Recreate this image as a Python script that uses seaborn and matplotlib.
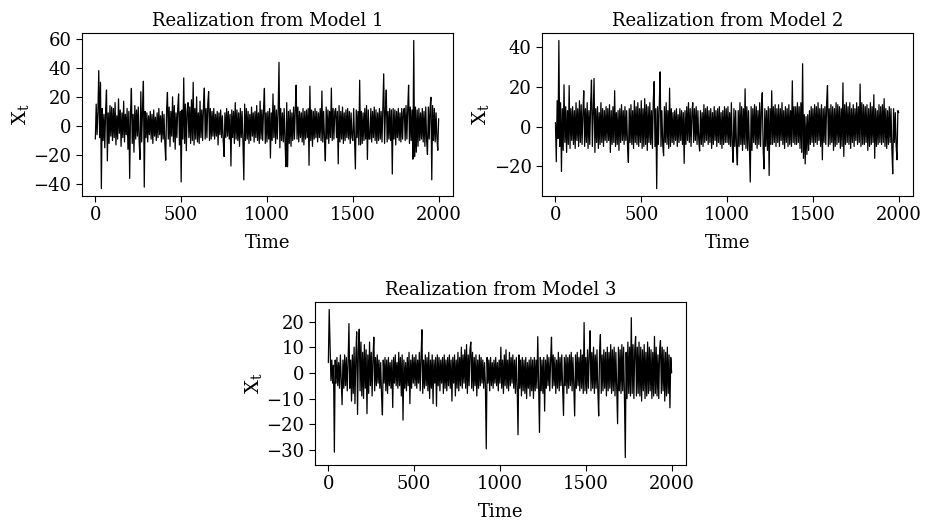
import pandas as pd
import seaborn as sns
import matplotlib.pyplot as plt

# values, one every 5 time steps
time = list(range(0, 2001, 5))

model_1 = [
    -9, 15, -6, 10, 38, -8, 30, -43, 12, -10, 8, -15, 11, 24.7, -24, 9, -12, 14, -7, 13,
    -10, 12, -8, 16, -13, 7, -9, 18.6, -5, 11, -14, 9, -8, 17, -11, 8, -6, 12, -16, 10,
    -36, 9, 25.8, -12, 8, -18, 14, -9, 11, -7, 13, -10, -23, 23.5, -11, 12, 30.7, -42, 10, -8,
    9, -11, 7, -6, 10, -9, 8, -12, 11, -7, 6, -10, 9, -8, 12, -6, 7, -11, 10, -9,
    8, -12, -23.5, 11, 23, -9, 13, -14, 10, -7, 20, -11, 14, -16, 9, -8, 12, 22, -13, 10,
    -38.4, 11, -9, 33, -12, 15, -17, 10, 16, -8, 13, -12, 18, -10, 30, -13, 12, -9, 20, -11,
    9, -12, 17, -8, 11, -10, 14, 26, -9, 12, -8, 15, 23.5, -10, 12, -9, 10, -7, 12, -9,
    8, -7, 10, -13, 9, -6, 11, -8, 7, -10, -21, 9, -8, 12, -7, 10, -9, 8, -27.5, 11,
    -8, 10, -12, 16, -9, 11, -10, 9, -14, 12, -8, 10, -11, -37, 15, -10, 12, -9, 10, -12,
    8, -10, 13, -7, 9, -11, 10, -8, 14, -10, 9, -12, 17, -9, 11, -10, 12, 25.8, -12, 9,
    -11, 10, -9, 12, -22, 9, -10, 22, -8, 14, -12, 11, -9, 10, 43.7, -15, 12, -10, 9, -11,
    12, -10, -28, 16, -28, 10, -12, 11, -14, 9, -10, 13, -9, 12, 28, -9, 13, -11, 10, -8,
    9, -11, 12, -13, 10, -9, 11, -8, 12, -27, 27.3, -10, 11, -14, 10, -9, 12, -8, 10, -11,
    9, -8, 12, -10, 24, -11, 10, -9, -24, 13, -9, 11, -12, 10, -8, 26, -10, 12, -9, 10,
    12, -8, 10, -26, 14, -11, 10, -9, 13, -12, 9, -10, 11, -8, 12, -9, 10, -12, 9, -8,
    -10, 12, -9, -29.5, 11, -8, 10, -13, 31.4, -13, 10, -12, 9, -10, 12, -9, 14, -23, 11, -9,
    -9, 12, -11, 10, -8, 13, -10, 11, -12, 9, -10, 12, -9, 10, -11, 14, 35.8, -12, 10, 24.7,
    -11, 10, -9, 12, -10, 11, -33, 12, -9, 11, -13, 10, -8, 12, -10, 9, -11, 12, -9, 10,
    12, -10, 14, -9, 12, 28, -12, 13, -10, 11, -22.8, 58.7, -21, 13, -18, 11, -14, 12, -10, 9,
    -9, 12, -11, 10, -14, 13, -10, -19.6, 13, -9, 12, 19.7, -37, 14, -10, 12, -11, 9, -8, -16.7,
    5,
]

model_2 = [
    2, -17.7, 13, -6, 43.3, -10, 12, -22.6, 9, -12, 21, -8, 10, -13, 8, -9, 20.6, -11, 9, -7,
    10, -9, 8, -11, 12, -7, 9, -10, 13, -8, 11, -9, 7, 18, -10, 9, -8, 12, -11, 8,
    -9, 11, 23.4, -10, 8, 24.2, -13, 9, -8, 10, -11, 7, -9, 12, -8, 9, -10, 8, -7, 10,
    -8, 9, -7, 11, -13, 8, -9, 10, -8, 18, -10, 7, -9, 8, -12, 9, -8, 11, -7, 8,
    -9, 10, -7, 8, -10, -18, 9, -8, 11, -9, 8, -11, 13, -8, 10, -9, 12, -10, 9, -8,
    13, -11, 9, -10, 14, -9, 11, -12, 10, -8, 12, -9, 8, -11, 13, 22.6, -10, 9, -31.2, 10,
    -9, 11, 27.5, -10, 8, -9, -14.7, 10, -8, 12, -9, 8, -11, 19.3, -10, 9, -8, 7, -9, 8,
    -7, 9, -10, 6, -8, 9, -7, 8, -9, 7, -18.5, 8, -9, 10, -7, 12, -8, 9, -10, 7,
    12, -8, 9, -7, 10, -9, 8, -7, -12.3, 8, -9, 7, -10, 11, -8, 9, -7, 10, -9, 8,
    -8, 9, -11, 7, -9, 10, -7, 8, -10, 9, -8, 10, -9, 7, -11, 8, -9, 10, -8, 9,
    -8, 10, -9, 7, -10, 12, -9, -18, 9, -10, 8, -11, -19.3, 8, -10, 12, -9, 10, -12, 9,
    -9, 19, -11, 10, -12, 8, -10, -27.9, 10, -12, 9, -8, 11, -9, 10, -11, 8, -9, 12, -10,
    9, 17, -11, -21.3, 9, -10, 8, -12, 10, -24.6, 9, -9, 18, -9, 10, -8, 11, -10, 9, -8,
    11, -10, 9, -7, 12, -9, 8, -11, 10, -8, 9, -10, 11, -9, 8, -10, 23, -8, 10, -9,
    10, -9, 12, -8, 10, -11, 12, -13, 31.6, -16, 6, -18.8, 5, -14, 6, -12, 8, -9, 10, -8,
    9, -10, 11, -8, 10, -9, 12, -7, 9, -10, 11, -16.7, 9, -8, 10, -9, 12, 20.6, -10, 9,
    -9, 11, -8, 10, -12, 9, -10, 12, -9, 11, -8, 10, -11, 9, -10, 22, -15, 11, -9, 12,
    -8, 10, -9, 12, -11, 9, -8, 11, -10, 9, -7, 12, -9, 10, -8, 21.4, -10, 12, -9, 11,
    -9, 10, -8, 11, -12, 9, -10, 12, -9, 10, -8, 16, -16, 9, -10, 8, -9, 11, -8, 10,
    -9, 11, -8, 14, -10, 9, -11, 8, -9, 10, -8, 9, -11, -23.8, 9, -8, 7, -10, -16.7, 8,
    7,
]

model_3 = [
    4, 24.7, 11.3, -3, 5, -4, 3, -30.9, 5, -4, 6, -5, 4, -6, 7, -3, -12.4, 5, -6, 7,
    -5, 6, -7, 4, 19.2, -6, 5, -11, 7, -8, 10, -12, 6, 16, -16.2, 9, 17, -7, 12, -9,
    8, -10, 11, -6, 9, -15.9, 7, -8, 12, -5, 8, -9, 6, 13.9, -7, 6, -5, 7, -4, 5,
    -6, 4, -9, -16.4, 5, -4, 6, -7, 5, -8, 6, -5, 4, -6, 5, -13.5, 6, -4, 7, -5,
    4, -6, 8, -5, 6, -9, 7, -18.4, 5, -6, 4, -7, 6, -5, 8, -12, 5, -6, 7, -4,
    6, -5, 7, -6, 5, -4, 8, -7, 6, 16.8, -8, 5, -6, 7, -5, 6, -7, 8, -10, 5,
    -6, 7, -12, 5, -4, 6, -13, 7, -5, 6, -7, 5, -4, 6, -8, 7, -6, 5, -7, 6,
    -5, 7, -6, 5, -11, 6, -4, 7, -9, 5, -6, 8, -7, 6, -5, 10, -6, 7, -4, 9,
    -6, 11, -8, 7, -5, 9, 12, -6, 8, -7, 6, -5, 7, -9, 5, -6, 7, -5, 6, -4,
    5, -6, 4, -5, -29.6, 6, -4, 5, -7, 6, -5, 4, -6, 5, -4, 6, -5, 4, -7, 5,
    -4, 10, -6, 5, -8, 7, -5, 9, -6, 5, -7, 8, -5, 6, -4, 7, -6, 5, -8, 6,
    -5, -24.1, 7, -6, 5, -9, 6, -7, 5, -8, 6, -10, 4, -6, 5, -9, 6, -7, 5, -10,
    6, -7, 5, -6, 14.1, -5, -23.2, 6, -7, 5, -8, 6, -14.9, 5, -6, 7, -5, 6, -7, 5,
    13.9, -6, 7, -5, 6, -8, 5, -6, 8, -7, 6, -5, 7, -6, -16.6, 6, -5, 7, -8, 6,
    -6, 7, -5, 8, -7, 6, -5, -16.8, 7, -6, 8, -5, 6, -7, 9, -6, 7, -8, 19.6, -7,
    6, -8, 9, -6, 7, 16.4, -7, 8, -6, 10, -8, 7, -6, 9, -7, -16.8, 8, 14.9, -8, 7,
    -7, 9, -6, 8, -9, 10, -7, 8, -6, 11, -8, 9, -7, 10, -9, 8, -6, -19.8, 10, -7,
    9, -8, 11, -7, 10, -9, -33, 8, -10, 12, -8, 10, -9, 21.5, -8, 11, -10, 9, 14.2, -9,
    10, -8, 12, -9, 10, -11, 9, -7, 11, -10, 8, -9, 12, -8, 10, -7, 9, -10, 8, -9,
    14.2, -8, 10, -9, 7, -10, 9, 12.6, -8, 10, -7, 9, -11, 8, -9, 10, -8, 7, -13.6, 6,
    0,
]

titles = ["Realization from Model 1", "Realization from Model 2", "Realization from Model 3"]
series = [model_1, model_2, model_3]
y_ticks = [[-40, -20, 0, 20, 40, 60], [-20, 0, 20, 40], [-30, -20, -10, 0, 10, 20]]

sns.set_style("ticks")
plt.rcParams["font.family"] = ["DejaVu Serif"]
plt.rcParams["mathtext.fontset"] = "dejavuserif"
plt.rcParams["text.color"] = "black"
plt.rcParams["axes.labelcolor"] = "black"

fig = plt.figure(figsize=(9.25, 5.29), dpi=100)
boxes = [
    [0.0886, 0.6295, 0.401, 0.308],
    [0.586, 0.6295, 0.401, 0.308],
    [0.3405, 0.121, 0.401, 0.308],
]

for box, title, vals, yt in zip(boxes, titles, series, y_ticks):
    assert len(vals) == len(time), (title, len(vals))
    ax = fig.add_axes(box)
    df = pd.DataFrame({"Time": time, "X": vals})
    sns.lineplot(data=df, x="Time", y="X", ax=ax, color="black", linewidth=0.9)
    ax.set_xlim(-78, 2083)
    ax.set_xticks([0, 500, 1000, 1500, 2000])
    ax.set_yticks(yt)
    ax.set_title(title, fontsize=13, pad=5, color="black")
    ax.set_xlabel("Time", fontsize=13, labelpad=7)
    ax.set_ylabel(r"$\mathrm{X}_{\mathrm{t}}$", fontsize=14, labelpad=2)
    ax.tick_params(labelsize=13, length=4, width=0.8, colors="black")
    for spine in ax.spines.values():
        spine.set_color("black")
        spine.set_linewidth(0.8)

fig.savefig("out.png", dpi=100)
